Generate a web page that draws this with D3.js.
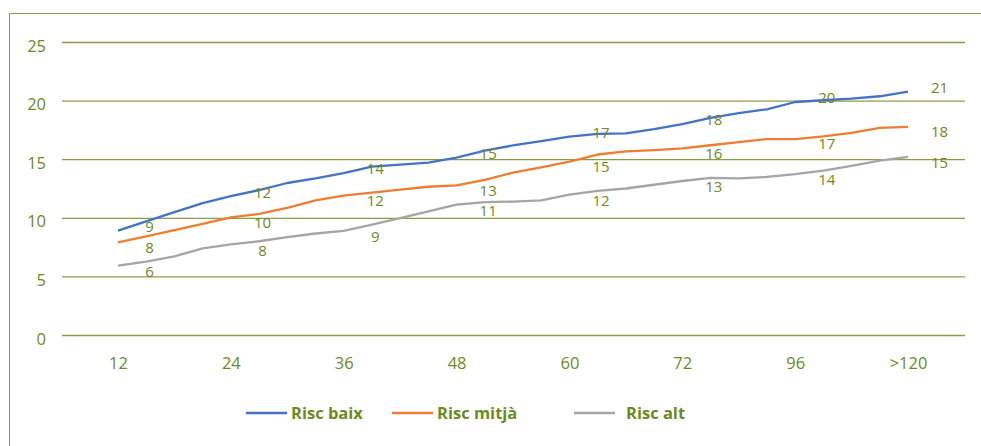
<!DOCTYPE html>
<html><head><meta charset="utf-8">
<script src="https://cdn.jsdelivr.net/npm/d3@7"></script>
<style>body{margin:0;background:#fff} svg{display:block}</style>
</head><body><svg id="c" width="981" height="446"></svg>
<script>
// ---- data ----
const categories = ["12","15","18","21","24","27","30","33","36","39","42","45","48","51","54","57","60","63","66","69","72","78","84","90","96","102","108","114",">120"];
const tickLabels = ["12","24","36","48","60","72","96",">120"];
const yTicks = [0,5,10,15,20,25];
const riscBaix  = [8.9,9.69,10.48,11.26,11.85,12.36,12.97,13.36,13.82,14.36,14.53,14.70,15.14,15.74,16.17,16.55,16.92,17.16,17.2,17.56,18.0,18.52,18.94,19.26,19.88,20.03,20.17,20.37,20.76];
const riscMitja = [7.91,8.41,8.95,9.49,10.03,10.33,10.84,11.48,11.90,12.14,12.40,12.65,12.76,13.24,13.85,14.30,14.79,15.40,15.67,15.78,15.92,16.19,16.46,16.72,16.72,16.95,17.25,17.67,17.75];
const riscAlt   = [5.91,6.27,6.70,7.40,7.74,8.00,8.35,8.66,8.88,9.41,9.98,10.55,11.12,11.33,11.38,11.49,11.97,12.30,12.50,12.82,13.14,13.41,13.36,13.49,13.73,14.03,14.43,14.87,15.19];
const seriesNames  = ["Risc baix","Risc mitjà","Risc alt"];
const seriesColors = ["#4472C4","#ED7D31","#A5A5A5"];

const series = [riscBaix, riscMitja, riscAlt].map((vals,k)=>({name:seriesNames[k], color:seriesColors[k], values:vals}));

const olive = "#6C8A22";
const gridC = "#8A9D45";
const font = "'Open Sans', sans-serif";

const svg = d3.select("#c");

// frame
svg.append("path").attr("d","M9.5,446 V13.5 H981").attr("fill","none").attr("stroke",gridC).attr("stroke-width",1);

const x = d3.scalePoint().domain(categories).range([118,908]);
const y = d3.scaleLinear().domain([0,25]).range([335,42]);
const gridL = 62, gridR = 965;

// y axis + gridlines
const yAx = svg.append("g").attr("transform",`translate(${gridL},0)`)
  .call(d3.axisLeft(y).tickValues(yTicks).tickSizeInner(-(gridR-gridL)).tickSizeOuter(0).tickPadding(16));
yAx.select(".domain").remove();
yAx.selectAll(".tick line").attr("stroke",gridC).attr("stroke-width",1.3);
yAx.selectAll(".tick text").attr("fill",olive).style("font-family",font).style("font-size","16.5px").attr("dy","0.55em");

// x axis labels
const tickCats = categories.filter((c,i)=>i%4===0);
const xAx = svg.append("g").attr("transform",`translate(0,335)`)
  .call(d3.axisBottom(x).tickValues(tickCats).tickFormat((d,i)=>tickLabels[i]).tickSize(0).tickPadding(22));
xAx.select(".domain").remove();
xAx.selectAll(".tick text").attr("fill",olive).style("font-family",font).style("font-size","16.5px");

// lines
const line = d3.line().x((d,i)=>x(categories[i])).y(d=>y(d));
svg.append("g").selectAll("path").data(series).join("path")
  .attr("d",d=>line(d.values)).attr("fill","none")
  .attr("stroke",d=>d.color).attr("stroke-width",2.3).attr("stroke-linejoin","round");

// data labels (every 4th point, shown a little to the right of the point)
const labOff = [-4,5,6];
series.forEach((s,k)=>{
  svg.append("g").selectAll("text")
    .data(s.values.map((v,i)=>({v,i})).filter(d=>d.i%4===0))
    .join("text")
    .attr("x",d=>x(categories[d.i])+x.step()*1.12)
    .attr("y",d=>y(d.v)+labOff[k])
    .attr("dy","0.36em")
    .attr("text-anchor","middle")
    .attr("fill",olive)
    .style("font-family",font).style("font-size","15px")
    .text(d=>Math.round(d.v));
});

// legend
const legX = [246, 392, 574];
const lg = svg.append("g").selectAll("g").data(series).join("g")
  .attr("transform",(d,i)=>`translate(${legX[i]},413)`);
lg.append("line").attr("x1",0).attr("x2",41).attr("y1",0).attr("y2",0)
  .attr("stroke",d=>d.color).attr("stroke-width",2.3);
lg.append("text").attr("x",(d,i)=>i===2?52:45).attr("dy","0.36em")
  .attr("fill",olive).style("font-family",font).style("font-size","16.5px").style("font-weight","bold")
  .text(d=>d.name);
</script></body></html>
